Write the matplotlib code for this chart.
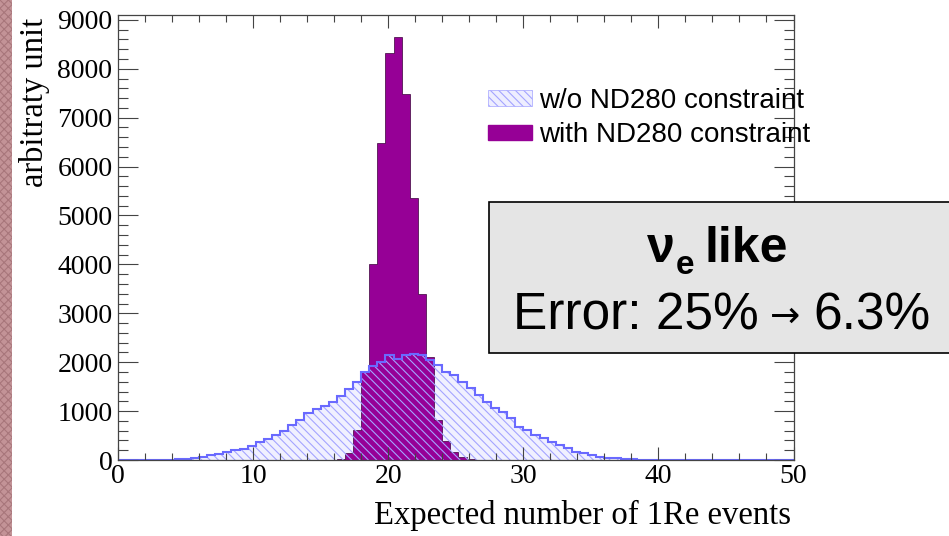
import numpy as np
import matplotlib.pyplot as plt
from matplotlib.patches import Rectangle, Patch
from matplotlib.ticker import MultipleLocator

plt.rcParams['font.family'] = 'Liberation Serif'
plt.rcParams['hatch.linewidth'] = 0.8

# histogram bins: width 0.6 starting at 0
bin_width = 0.6
n_bins = 84

# w/o ND280 constraint
wo_nd280 = [0, 0, 0, 0, 0, 0, 5, 15, 30, 45,
            70, 100, 125, 160, 200, 235, 280, 360, 430, 510,
            600, 710, 810, 960, 1050, 1110, 1190, 1300, 1450, 1600,
            1800, 1930, 2000, 2150, 2060, 2150, 2160, 2150, 2045, 1943,
            1806, 1738, 1602, 1466, 1330, 1193, 1057, 989, 852, 682,
            614, 511, 443, 375, 307, 239, 170, 136, 102, 68,
            45, 34, 25, 15, 8, 4, 0, 0, 0, 0,
            0, 0, 0, 0, 0, 0, 0, 0, 0, 0,
            0, 0, 0, 0]

# with ND280 constraint
with_nd280 = [0, 0, 0, 0, 0, 0, 0, 0, 0, 0,
              0, 0, 0, 0, 0, 0, 0, 0, 0, 0,
              0, 0, 0, 0, 0, 0, 5, 25, 140, 610,
              1800, 4000, 6480, 8320, 8660, 7480, 5350, 3400, 2100, 820,
              380, 170, 70, 20, 5, 0, 0, 0, 0, 0,
              0, 0, 0, 0, 0, 0, 0, 0, 0, 0,
              0, 0, 0, 0, 0, 0, 0, 0, 0, 0,
              0, 0, 0, 0, 0, 0, 0, 0, 0, 0,
              0, 0, 0, 0]

labels = ["w/o ND280 constraint", "with ND280 constraint"]

edges = np.arange(n_bins + 1) * bin_width

purple = '#960096'
blue_line = '#6a6aff'
hatch_col = '#a4a4ff'

W, H = 949, 536


def fx(x):
    return x / W


def fy(y):
    return 1 - y / H


fig = plt.figure(figsize=(9.49, 5.36), dpi=100)
ax = fig.add_axes([fx(118), fy(460), 675.5 / W, 445 / H])

# light background of the hatched area, then purple, then hatch + outline on top
ax.stairs(wo_nd280, edges, fill=True, facecolor='#f0f0ff', linewidth=0)
ax.stairs(with_nd280, edges, fill=True, facecolor=purple, edgecolor='#3a003a', linewidth=0.5)
ax.stairs(wo_nd280, edges, fill=True, facecolor='none', edgecolor=hatch_col,
          hatch='\\\\\\\\', linewidth=0)
ax.stairs(wo_nd280, edges, color=blue_line, linewidth=1.5)

ax.set_xlim(0, 50)
ax.set_ylim(0, 9100)

ax.xaxis.set_major_locator(MultipleLocator(10))
ax.xaxis.set_minor_locator(MultipleLocator(2))
ax.yaxis.set_major_locator(MultipleLocator(1000))
ax.yaxis.set_minor_locator(MultipleLocator(200))
ax.tick_params(which='both', direction='in', top=True, right=True, color='#444444', width=0.8, labelsize=20)
ax.tick_params(axis='x', which='major', length=9.4, pad=3)
ax.tick_params(axis='x', which='minor', length=4.7)
ax.tick_params(axis='y', which='major', length=14.4, pad=4)
ax.tick_params(axis='y', which='minor', length=7.2)
for s in ax.spines.values():
    s.set_linewidth(0.9)
    s.set_color('#444444')

ax.set_xlabel("Expected number of 1Re events", fontsize=23.5, loc='right')
ax.xaxis.set_label_coords(0.997, -0.09)
ax.set_ylabel("arbitraty unit", fontsize=23.5, loc='top')
ax.yaxis.set_label_coords(-0.1, 0.993)

handles = [Patch(facecolor='#eeeeff', edgecolor=hatch_col, hatch='\\\\\\\\', linewidth=0.5, label=labels[0]),
           Patch(facecolor=purple, edgecolor=purple, label=labels[1])]
ax.legend(handles=handles, loc='upper left', bbox_to_anchor=(fx(488), fy(88)),
          bbox_transform=fig.transFigure, frameon=False,
          prop={'family': 'Liberation Sans', 'size': 20},
          handlelength=1.6, handleheight=0.5, handletextpad=0.25,
          labelspacing=0.3, borderpad=0, borderaxespad=0)

# result box
fig.add_artist(Rectangle((fx(489), fy(353)), (960 - 489) / W, (353 - 201.5) / H,
                         transform=fig.transFigure, facecolor='#e5e5e5',
                         edgecolor='black', linewidth=1.2, zorder=5, clip_on=False))
sans = ['Liberation Sans', 'DejaVu Sans']
fig.text(fx(647), fy(262), "ν", family=sans, fontsize=36, fontweight='bold', va='baseline', zorder=6)
fig.text(fx(676), fy(274), "e", family=sans, fontsize=24, fontweight='bold', va='baseline', zorder=6)
fig.text(fx(705), fy(262), "like", family=sans, fontsize=36, fontweight='bold', va='baseline', zorder=6)
fig.text(fx(513), fy(330), "Error: 25%", family=sans, fontsize=37, va='baseline', zorder=6)
fig.text(fx(785), fy(317), "→", family='DejaVu Sans', fontsize=26, ha='center', va='center', zorder=6)
fig.text(fx(813), fy(330), "6.3%", family=sans, fontsize=37, va='baseline', zorder=6)

# textured slide border on the left
fig.add_artist(Rectangle((0, 0), 12 / W, 1, transform=fig.transFigure,
                         facecolor='#c39397', edgecolor='#a8767b', hatch='xxxx',
                         linewidth=0, zorder=0))

fig.savefig('out.png', dpi=100)
